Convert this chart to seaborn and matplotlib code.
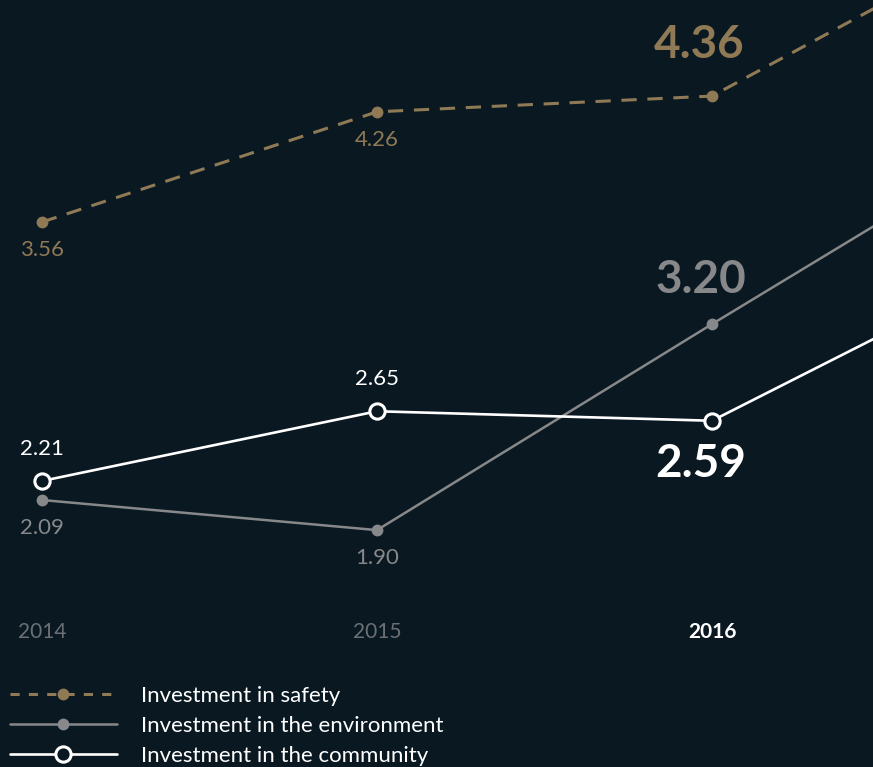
import pandas as pd
import seaborn as sns
import matplotlib.pyplot as plt
from matplotlib.lines import Line2D

# values (2017 values sit past the right edge, estimated)
years = [2014, 2015, 2016, 2017]
safety = [3.56, 4.26, 4.36, 5.51]
environment = [2.09, 1.90, 3.20, 4.48]
community = [2.21, 2.65, 2.59, 3.66]
year_labels = ["2014", "2015", "2016"]
series_names = ["Investment in safety", "Investment in the environment", "Investment in the community"]

BG = "#0a1822"
GOLD = "#8f7a55"
GREY = "#87888a"
WHITE = "#ffffff"
DIM = "#6b7075"

sns.set_style("dark")
plt.rcParams['font.family'] = ['Lato', 'DejaVu Sans']

df = pd.DataFrame({"year": years, "safety": safety,
                   "environment": environment, "community": community})

fig = plt.figure(figsize=(8.73, 7.67), dpi=100, facecolor=BG)
ax = fig.add_axes([0, 167 / 767, 1, 600 / 767])
ax.set_facecolor("none")
ax2 = ax.twinx()
ax2.set_facecolor("none")

sns.lineplot(data=df, x="year", y="environment", ax=ax, color=GREY, linewidth=1.8,
             marker="o", markersize=8.5, markeredgewidth=0, zorder=3)
sns.lineplot(data=df, x="year", y="community", ax=ax, color=WHITE, linewidth=1.9,
             marker="o", markersize=11, markerfacecolor=BG, markeredgecolor=WHITE,
             markeredgewidth=2.2, zorder=4)
sns.lineplot(data=df, x="year", y="safety", ax=ax2, color=GOLD, linewidth=2.2,
             marker="o", markersize=8.5, markeredgewidth=0, zorder=3)
ax2.lines[-1].set_dashes((5, 3.5))

for a in (ax, ax2):
    for s in a.spines.values():
        s.set_visible(False)
    a.set_ylabel("")
    a.set_xlabel("")
    a.set_yticks([])
    a.grid(False)

ax.set_xticks(years[:3])
ax.set_xticklabels(year_labels)
ax.tick_params(axis="x", length=0, pad=16, labelsize=15, labelcolor=DIM)
lbl = ax.get_xticklabels()[2]
lbl.set_color(WHITE)
lbl.set_fontweight("bold")

x0 = years[0]
ax.set_xlim(x0 - 0.1254, x0 + 2.4806)
ax.set_ylim(1.459, 5.245)
ax2.set_ylim(1.16, 4.97)

# value labels
small = 16
for i in range(2):
    ax2.annotate(f"{safety[i]:.2f}", (years[i], safety[i]), xytext=(0, -20),
                 textcoords="offset points", ha="center", va="center",
                 color=GOLD, fontsize=small)
    ax.annotate(f"{environment[i]:.2f}", (years[i], environment[i]), xytext=(0, -20),
                textcoords="offset points", ha="center", va="center",
                color=GREY, fontsize=small)
    ax.annotate(f"{community[i]:.2f}", (years[i], community[i]), xytext=(0, 23),
                textcoords="offset points", ha="center", va="center",
                color=WHITE, fontsize=small)

big = dict(textcoords="offset points", ha="center", va="center",
           fontsize=33, fontweight="bold")
ax2.annotate(f"{safety[2]:.2f}", (years[2], safety[2]), xytext=(-9, 37),
             color=GOLD, **big)
ax.annotate(f"{environment[2]:.2f}", (years[2], environment[2]), xytext=(-8, 32),
            color=GREY, **big)
ax.annotate(f"{community[2]:.2f}", (years[2], community[2]), xytext=(-8, -31),
            color=WHITE, **big)

handles = [
    Line2D([], [], color=GOLD, linewidth=2.2, dashes=(3, 3), marker="o",
           markersize=8.5, markeredgewidth=0),
    Line2D([], [], color=GREY, linewidth=1.8, marker="o", markersize=8.5,
           markeredgewidth=0),
    Line2D([], [], color=WHITE, linewidth=1.9, marker="o", markersize=11,
           markerfacecolor=BG, markeredgecolor=WHITE, markeredgewidth=2.2),
]
fig.legend(handles, series_names, loc="upper left", bbox_to_anchor=(10 / 873, 1 - 686 / 767),
           frameon=False, fontsize=16, labelcolor=WHITE, handlelength=4.8,
           handletextpad=1.1, labelspacing=0.45, borderpad=0, borderaxespad=0,
           numpoints=1)

fig.savefig("out.png", dpi=100, facecolor=BG)
